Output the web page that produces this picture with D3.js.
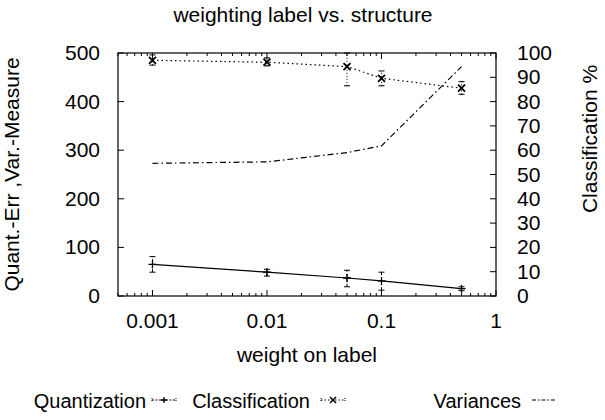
<!DOCTYPE html>
<html>
<head>
<meta charset="utf-8">
<script src="https://cdn.jsdelivr.net/npm/d3@7"></script>
<style>
body { margin: 0; background: #fff; }
text { font-family: "Liberation Sans", Arial, sans-serif; fill: #000; }
</style>
</head>
<body>
<div id="chart"></div>
<script>
// values
var weights = [0.001, 0.01, 0.05, 0.1, 0.5];
var quant = [65, 49, 37, 31, 15];
var quantLo = [49, 41, 19, 12, 11];
var quantHi = [81, 55, 53, 49, 19];
var classif = [97, 96.2, 94.4, 89.6, 85.5];
var classLo = [95, 94.7, 86.5, 86.5, 83];
var classHi = [99.2, 98, 100, 92.6, 88.2];
var variances = [273, 276, 295, 309, 472];
var xTicks = [0.001, 0.01, 0.1, 1];
var leftTicks = [0, 100, 200, 300, 400, 500];
var rightTicks = [0, 10, 20, 30, 40, 50, 60, 70, 80, 90, 100];

var width = 605, height = 420;
var margin = {left: 118, right: 109, top: 53, bottom: 124};
var w = width - margin.left - margin.right;
var h = height - margin.top - margin.bottom;

var svg = d3.select("#chart").append("svg")
	.attr("width", width)
	.attr("height", height);

var x = d3.scaleLog().domain([0.0005, 1]).range([0, w]);
var yL = d3.scaleLinear().domain([0, 500]).range([h, 0]);
var yR = d3.scaleLinear().domain([0, 100]).range([h, 0]);

var g = svg.append("g")
	.attr("transform", "translate(" + margin.left + "," + margin.top + ")");

// minor ticks of the log axis
var minor = [];
[0.0001, 0.001, 0.01, 0.1].forEach(function(d) {
	for (var k = 2; k <= 9; k++) {
		var v = d * k;
		if (v >= 0.0005 && v <= 1) minor.push(v);
	}
});

function tick(x1, y1, x2, y2) {
	g.append("line")
		.attr("x1", x1).attr("y1", y1).attr("x2", x2).attr("y2", y2)
		.attr("stroke", "#000").attr("stroke-width", 1);
}

minor.forEach(function(d) {
	tick(x(d), h, x(d), h - 3);
	tick(x(d), 0, x(d), 3);
});
xTicks.forEach(function(d) {
	tick(x(d), h, x(d), h - 6);
	tick(x(d), 0, x(d), 6);
});
leftTicks.forEach(function(d) {
	tick(0, yL(d), 6, yL(d));
});
rightTicks.forEach(function(d) {
	tick(w, yR(d), w - 6, yR(d));
});

g.append("rect")
	.attr("width", w).attr("height", h)
	.attr("fill", "none").attr("stroke", "#000").attr("stroke-width", 1.2);

// tick labels
g.selectAll("text.xl").data(xTicks).enter().append("text")
	.attr("class", "xl")
	.attr("x", function(d) { return x(d); })
	.attr("y", h + 32)
	.attr("text-anchor", "middle")
	.style("font-size", "21px")
	.text(function(d) { return d; });

g.selectAll("text.yl").data(leftTicks).enter().append("text")
	.attr("class", "yl")
	.attr("x", -18)
	.attr("y", function(d) { return yL(d) + 7; })
	.attr("text-anchor", "end")
	.style("font-size", "21px")
	.text(function(d) { return d; });

g.selectAll("text.yr").data(rightTicks).enter().append("text")
	.attr("class", "yr")
	.attr("x", w + 21)
	.attr("y", function(d) { return yR(d) + 7; })
	.attr("text-anchor", "start")
	.style("font-size", "21px")
	.text(function(d) { return d; });

// error bars
function errbars(lo, hi, y, dash) {
	weights.forEach(function(d, i) {
		var xx = x(d);
		var a = y(lo[i]), b = y(hi[i]);
		g.append("line").attr("x1", xx).attr("x2", xx).attr("y1", a).attr("y2", b)
			.attr("stroke", "#000").attr("stroke-dasharray", dash);
		[a, b].forEach(function(yy) {
			g.append("line").attr("x1", xx - 3).attr("x2", xx + 3).attr("y1", yy).attr("y2", yy)
				.attr("stroke", "#000");
		});
	});
}
errbars(quantLo, quantHi, yL, "3,2");
errbars(classLo, classHi, yR, "1,2");

var data = weights.map(function(d, i) { return i; });

g.append("path")
	.datum(data)
	.attr("fill", "none").attr("stroke", "#000").attr("stroke-width", 1.2)
	.attr("d", d3.line().x(function(i) { return x(weights[i]); }).y(function(i) { return yL(quant[i]); }));

g.append("path")
	.datum(data)
	.attr("fill", "none").attr("stroke", "#000").attr("stroke-width", 1.2)
	.attr("stroke-dasharray", "1.5,3")
	.attr("d", d3.line().x(function(i) { return x(weights[i]); }).y(function(i) { return yR(classif[i]); }));

g.append("path")
	.datum(data)
	.attr("fill", "none").attr("stroke", "#000").attr("stroke-width", 1.2)
	.attr("stroke-dasharray", "6,3,1.5,3")
	.attr("d", d3.line().x(function(i) { return x(weights[i]); }).y(function(i) { return yL(variances[i]); }));

function plus(cx, cy, s) {
	g.append("path").attr("d", "M" + (cx - s) + "," + cy + "h" + (2 * s) + "M" + cx + "," + (cy - s) + "v" + (2 * s))
		.attr("stroke", "#000").attr("stroke-width", 1.3);
}
function cross(cx, cy, s) {
	g.append("path").attr("d", "M" + (cx - s) + "," + (cy - s) + "l" + (2 * s) + "," + (2 * s) +
			"M" + (cx - s) + "," + (cy + s) + "l" + (2 * s) + "," + (-2 * s))
		.attr("stroke", "#000").attr("stroke-width", 1.8);
}
weights.forEach(function(d, i) {
	plus(x(d), yL(quant[i]), 4);
	cross(x(d), yR(classif[i]), 3.5);
});

// titles
svg.append("text")
	.attr("x", 303).attr("y", 22)
	.attr("text-anchor", "middle")
	.style("font-size", "21px")
	.text("weighting label vs. structure");

svg.append("text")
	.attr("x", margin.left + w / 2).attr("y", 362)
	.attr("text-anchor", "middle")
	.style("font-size", "21px")
	.text("weight on label");

svg.append("text")
	.attr("transform", "translate(19," + (margin.top + h / 2) + ") rotate(-90)")
	.attr("text-anchor", "middle")
	.style("font-size", "21px")
	.text("Quant.-Err ,Var.-Measure");

svg.append("text")
	.attr("transform", "translate(597,139) rotate(-90)")
	.attr("text-anchor", "middle")
	.style("font-size", "21px")
	.text("Classification %");

// legend
var ly = 400;
var legend = [
	{name: "Quantization", tx: 146, sx: 152, dash: null, mark: "plus"},
	{name: "Classification", tx: 310, sx: 321, dash: "1.5,2", mark: "cross"},
	{name: "Variances", tx: 521, sx: 532, dash: "4,2,1.5,2", mark: null}
];
legend.forEach(function(d) {
	svg.append("text")
		.attr("x", d.tx).attr("y", ly + 8)
		.attr("text-anchor", "end")
		.style("font-size", "20px")
		.text(d.name);
	var lg = svg.append("g");
	lg.append("line").attr("x1", d.sx).attr("x2", d.sx + 24).attr("y1", ly).attr("y2", ly)
		.attr("stroke", "#000").attr("stroke-dasharray", d.dash || "2,1.5");
	if (d.mark) {
		[d.sx, d.sx + 24].forEach(function(xx) {
			lg.append("line").attr("x1", xx).attr("x2", xx).attr("y1", ly - 2).attr("y2", ly + 2)
				.attr("stroke", "#000").attr("stroke-dasharray", "1,1");
		});
	}
	var cx = d.sx + 12;
	if (d.mark === "plus") {
		lg.append("path").attr("d", "M" + (cx - 3) + "," + ly + "h6M" + cx + "," + (ly - 3) + "v6")
			.attr("stroke", "#000").attr("stroke-width", 1.3);
	} else if (d.mark === "cross") {
		lg.append("path").attr("d", "M" + (cx - 3) + "," + (ly - 3) + "l6,6M" + (cx - 3) + "," + (ly + 3) + "l6,-6")
			.attr("stroke", "#000").attr("stroke-width", 1.5);
	}
});
</script>
</body>
</html>
